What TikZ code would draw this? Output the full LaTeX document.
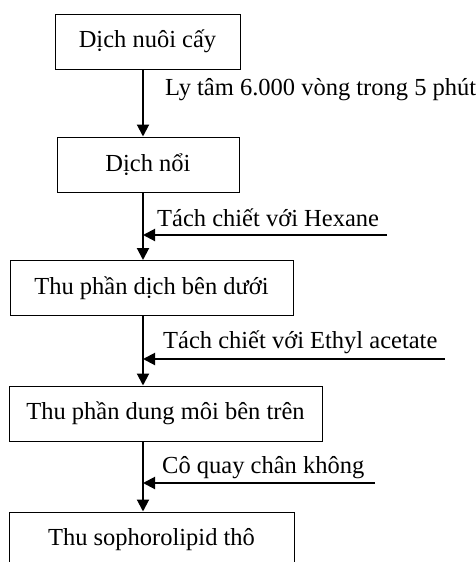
\documentclass[tikz,border=0pt]{standalone}
\usepackage{fontspec}
\setmainfont{Liberation Serif}
\usetikzlibrary{arrows.meta}
\tikzset{
  stepbox/.style={draw, line width=1pt, minimum height=55pt, inner sep=0pt,
    font=\fontsize{24.5}{28}\selectfont},
  flow/.style={line width=2pt, -{Triangle[length=12pt,width=12pt]}},
  note/.style={anchor=base west, inner sep=0pt, font=\fontsize{24.5}{28}\selectfont}
}

\begin{document}
\begin{tikzpicture}[x=1pt,y=-1pt]
  \useasboundingbox (0,0) rectangle (476,562);
  \clip (0,0) rectangle (476,562);
  \def\xflow{143} % x of the main flow line
  \coordinate (axis) at (\xflow,0);

  % Boxes
  \node[stepbox, minimum width=185pt] (culture) at (147.5,41.5) {Dịch nuôi cấy};
  \node[stepbox, minimum width=182pt] (supernatant) at (148,164.5) {Dịch nổi};
  \node[stepbox, minimum width=283pt] (lower) at (151.5,288) {Thu phần dịch bên dưới};
  \node[stepbox, minimum width=313pt] (upper) at (165.5,413.5) {Thu phần dung môi bên trên};
  \node[stepbox, minimum width=285pt] (crude) at (151.5,539.5) {Thu sophorolipid thô};

  % Main flow
  \draw[flow] (culture.south -| axis) -- (supernatant.north -| axis);
  \draw[flow] (supernatant.south -| axis) -- (lower.north -| axis);
  \draw[flow] (lower.south -| axis) -- (upper.north -| axis);
  \draw[flow] (upper.south -| axis) -- (crude.north -| axis);

  % Side inputs
  \coordinate (hexane) at (387,235);
  \coordinate (ethyl) at (445,359);
  \coordinate (vacuum) at (375,483);
  \draw[flow] (hexane) -- (hexane -| axis);
  \draw[flow] (ethyl) -- (ethyl -| axis);
  \draw[flow] (vacuum) -- (vacuum -| axis);

  % Labels
  \node[note] (spin) at (165,95) {Ly tâm 6.000 vòng trong 5 phút};
  \node[note] (hexanelabel) at (157,226) {Tách chiết với Hexane};
  \node[note] (ethyllabel) at (163,348) {Tách chiết với Ethyl acetate};
  \node[note] (vacuumlabel) at (162,473) {Cô quay chân không};
\end{tikzpicture}
\end{document}
